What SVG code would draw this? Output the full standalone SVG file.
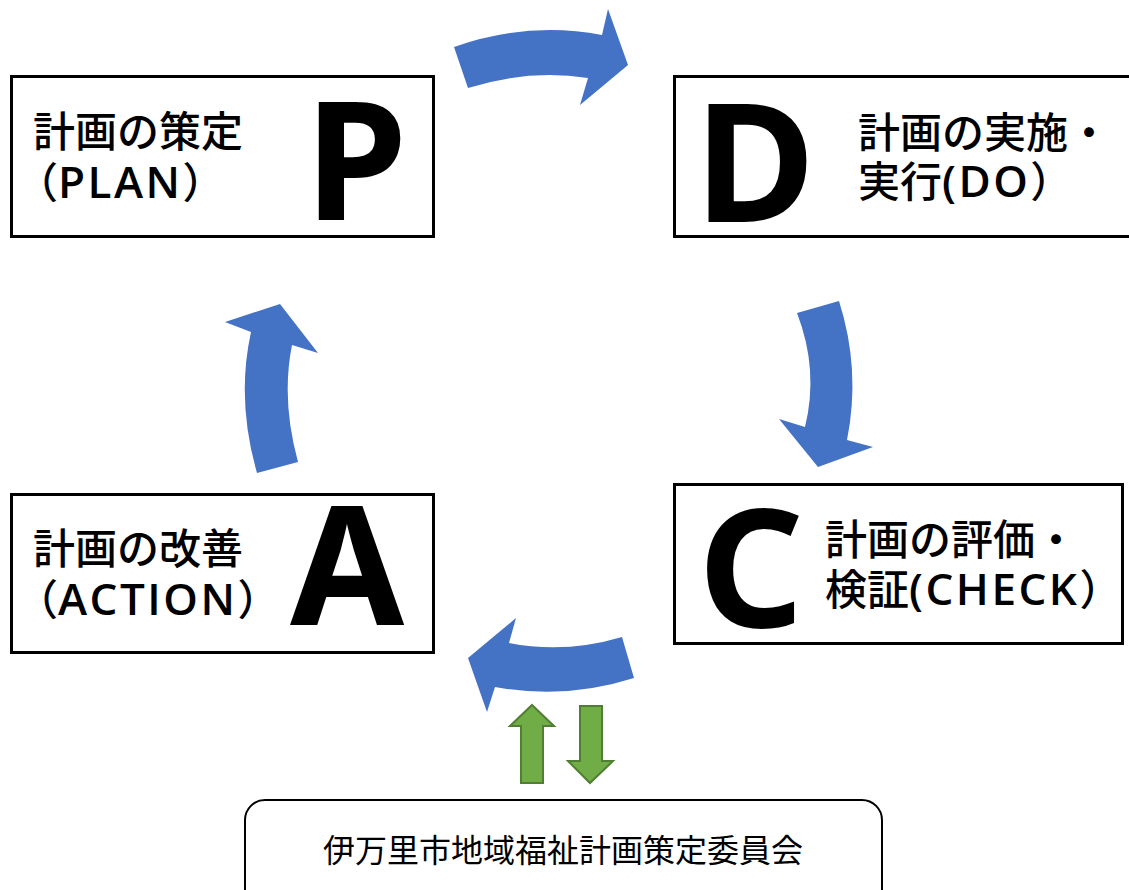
<svg xmlns="http://www.w3.org/2000/svg" width="1129" height="890" viewBox="0 0 1129 890">
<style>
.box{fill:#fff;stroke:#000;stroke-width:3}
.lbl{font-family:"Noto Sans CJK JP","Noto Sans",sans-serif;font-size:42px;font-weight:500;fill:#000}
.lat{font-family:"Open Sans","Noto Sans",sans-serif;font-size:44px;font-weight:600;letter-spacing:2.5px}
.big{font-family:"Noto Sans","Liberation Sans",sans-serif;font-size:165px;font-weight:700;fill:#000;text-anchor:middle}
.blue{fill:#4472C4}
.green{fill:#70AD47;stroke:#507E32;stroke-width:2}
.sub{font-family:"Noto Sans CJK JP",sans-serif;font-size:32px;fill:#000;text-anchor:middle}
</style>
<rect width="1129" height="890" fill="#fff"/>
<g id="connectors">
<path class="blue" d="M454,47 Q528,21 602,35 L608,9 L628,65 L580,105 L588,78 Q528,69 468,88 Z"/>
<path class="blue" d="M797,313 L839,301 Q861,370 847,440 L873,447 L818,467 L779,419 L805,427 Q819,370 797,313 Z"/>
<path class="blue" d="M622,637 L634,678 Q565,700 495,687 L487,712 L468,658 L516,618 L509,643 Q565,654 622,637 Z"/>
<path class="blue" d="M257,473 L298,462 Q281,400 292,345 L318,353 L280,304 L225,322 L251,332 Q236,400 257,473 Z"/>
<path class="green" d="M532,705 L554,726 L543,726 L543,783 L521,783 L521,726 L510,726 Z"/>
<path class="green" d="M580,706 L602,706 L602,761 L613,761 L590,783 L568,761 L580,761 Z"/>
</g>
<g id="plan">
<rect class="box" x="11.5" y="76.5" width="422" height="160"/>
<text class="lbl" x="33" y="147">計画の策定</text>
<text class="lbl" x="16" y="198">（<tspan class="lat">PLAN</tspan>）</text>
<text class="big" x="356" y="220">P</text>
</g>
<g id="do">
<rect class="box" x="674.5" y="76.5" width="470" height="160"/>
<text class="big" x="755" y="222">D</text>
<text class="lbl" x="858" y="148">計画の実施・</text>
<text class="lbl" x="858" y="197">実行<tspan class="lat">(DO</tspan>）</text>
</g>
<g id="check">
<rect class="box" x="674.5" y="484.5" width="448" height="159"/>
<text class="big" x="751" y="627">C</text>
<text class="lbl" x="825" y="555">計画の評価・</text>
<text class="lbl" x="825" y="605">検証<tspan class="lat">(CHECK</tspan>）</text>
</g>
<g id="action">
<rect class="box" x="11.5" y="494.5" width="422" height="158"/>
<text class="lbl" x="33" y="564">計画の改善</text>
<text class="lbl" x="16" y="615">（<tspan class="lat">ACTION</tspan>）</text>
<text class="big" x="347" y="625">A</text>
</g>
<g id="committee">
<rect x="245" y="800" width="637" height="110" rx="20" fill="#fff" stroke="#000" stroke-width="2"/>
<text class="sub" x="563" y="862">伊万里市地域福祉計画策定委員会</text>
</g>
</svg>
